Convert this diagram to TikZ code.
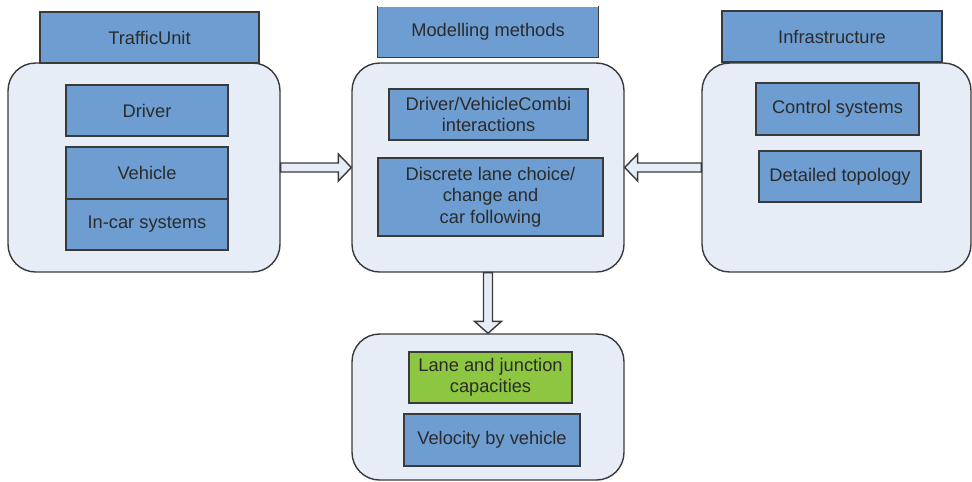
\documentclass[tikz,border=0pt]{standalone}
\usepackage{fontspec}
\setmainfont{Liberation Sans}
\usetikzlibrary{calc}
\definecolor{boxblue}{HTML}{6D9DD1}
\definecolor{boxgreen}{HTML}{8DC641}
\definecolor{panel}{HTML}{E7EDF6}
\definecolor{edge}{HTML}{3A3A3A}
\definecolor{ink}{HTML}{2B2B2B}
\begin{document}
\begin{tikzpicture}[x=0.02cm,y=-0.02cm,
  every node/.style={font=\fontsize{10.4}{12.2}\selectfont,text=ink,inner sep=0,align=center},
  panelbox/.style={draw=edge,fill=panel,line width=0.8pt,rounded corners=0.55cm,minimum width=5.44cm},
  head/.style={draw=edge,fill=boxblue,line width=0.8pt,minimum width=4.4cm,minimum height=1.02cm},
  item/.style={draw=edge,fill=boxblue,line width=0.8pt,minimum height=1.02cm},
  blockarrow/.style={draw=edge,fill=panel,line width=0.8pt,line join=miter}]
\useasboundingbox (0,0) rectangle (972,481);
\node[panelbox,minimum height=4.18cm] (unit) at (144,167.5) {};
\node[panelbox,minimum height=4.18cm] (methods) at (488,167.5) {};
\node[panelbox,minimum height=4.18cm,minimum width=5.38cm] (infra) at (836.5,167.5) {};
\node[panelbox,minimum height=2.92cm] (results) at (488,407) {};
\node[head,minimum width=4.38cm] (unithead) at (149.5,37.5) {TrafficUnit};
\node[head,draw=none,minimum height=1cm] (methodshead) at (488,32) {Modelling methods};
\draw[edge,line width=0.8pt] (methodshead.north west) -- (methodshead.south west) -- (methodshead.south east) -- (methodshead.north east);
\node[head] (infrahead) at (832,36.5) {Infrastructure};
\node[item,minimum width=3.24cm] (driver) at (147,110.5) {Driver};
\node[item,minimum width=3.24cm,minimum height=1.04cm] (vehicle) at (147,173) {Vehicle};
\node[item,minimum width=3.24cm] (incar) at (147,224.5) {In-car systems};
\node[item,minimum width=3.98cm] (combi) at (488.5,114.5) {Driver/VehicleCombi\\interactions};
\node[item,minimum width=4.5cm,minimum height=1.56cm] (discrete) at (490.5,197) {Discrete lane choice/\\change and\\car following};
\node[item,minimum width=3.26cm,minimum height=1.04cm] (control) at (837.5,109) {Control systems};
\node[item,minimum width=3.24cm] (topology) at (840,176.5) {Detailed topology};
\node[item,fill=boxgreen,minimum width=3.26cm] (lane) at (490.5,377.5) {Lane and junction\\capacities};
\node[item,minimum width=3.52cm,minimum height=1.04cm] (velocity) at (492,440) {Velocity by vehicle};
\draw[blockarrow] ($(unit.east)+(0,-4.5)$) -- ($(methods.west)+(-13,-4.5)$) -- ($(methods.west)+(-13,-13.5)$) -- (methods.west) -- ($(methods.west)+(-13,13.5)$) -- ($(methods.west)+(-13,4.5)$) -- ($(unit.east)+(0,4.5)$) -- cycle;
\draw[blockarrow] ($(infra.west)+(0,-4.5)$) -- ($(methods.east)+(13,-4.5)$) -- ($(methods.east)+(13,-13.5)$) -- (methods.east) -- ($(methods.east)+(13,13.5)$) -- ($(methods.east)+(13,4.5)$) -- ($(infra.west)+(0,4.5)$) -- cycle;
\draw[blockarrow] ($(methods.south)+(-4.5,0)$) -- ($(results.north)+(-4.5,-12)$) -- ($(results.north)+(-13.5,-12)$) -- (results.north) -- ($(results.north)+(13.5,-12)$) -- ($(results.north)+(4.5,-12)$) -- ($(methods.south)+(4.5,0)$) -- cycle;
\end{tikzpicture}
\end{document}
